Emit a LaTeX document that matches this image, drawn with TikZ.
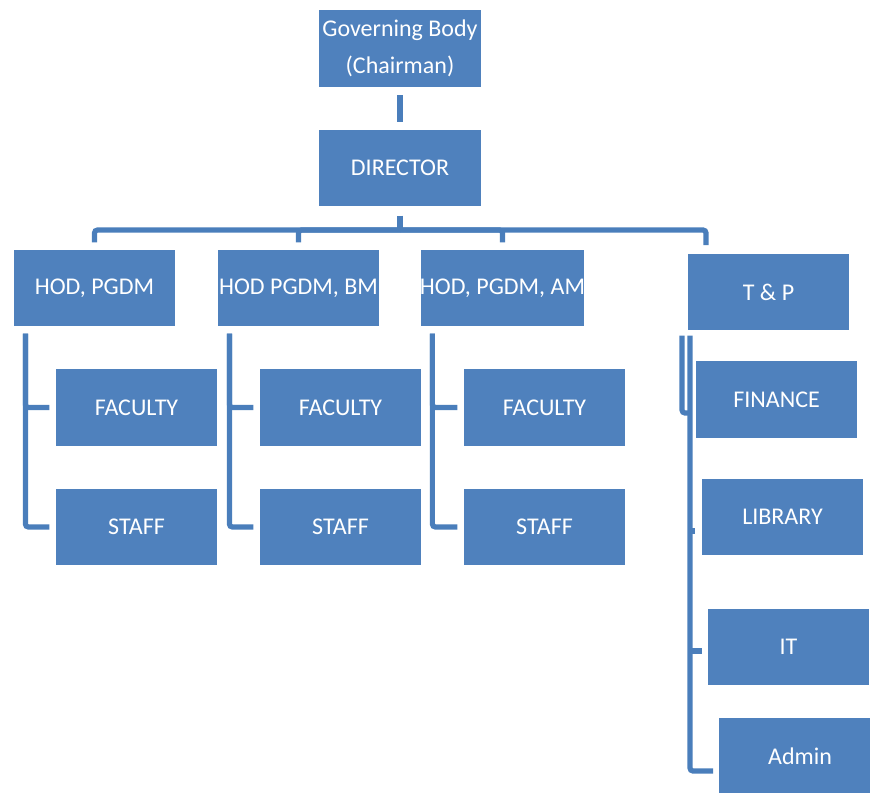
\documentclass[tikz,border=0pt]{standalone}
\usepackage{fontspec}
\setmainfont{Carlito}
\definecolor{boxblue}{HTML}{4F81BD}
\definecolor{lineblue}{HTML}{4A7EBB}
\begin{document}
\begin{tikzpicture}[x=0.5pt,y=-0.5pt,
  box/.style={draw=white, line width=0.6pt, fill=boxblue, text=white, inner sep=0pt,
    minimum width=81.5pt, minimum height=39pt, align=center,
    font=\fontsize{12}{18.5}\selectfont},
  conn/.style={draw=lineblue, line width=2.6pt, rounded corners=1.5pt}]
\useasboundingbox (0,0) rectangle (870,792);

% coordinates
\coordinate (bus) at (400,230);
\coordinate (tpdrop) at (706,245);
\coordinate (ra) at (682,413);
\coordinate (rb) at (690,771);
\coordinate (admend) at (713,771);
\coordinate (libend) at (695,531);

% boxes
\node[box] (gov) at (400,48.5) {Governing Body\\(Chairman)};
\node[box] (dir) at (400,168) {DIRECTOR};
\node[box] (h1) at (94.5,288) {HOD, PGDM};
\node[box] (h2) at (298.5,288) {HOD PGDM, BM};
\node[box] (h3) at (502.5,288) {HOD, PGDM, AM};
\node[box] (tp) at (768.5,292) {T \& P};
\node[box] (f1) at (136.5,407.5) {FACULTY};
\node[box] (s1) at (136.5,527) {STAFF};
\node[box] (f2) at (340.5,407.5) {FACULTY};
\node[box] (s2) at (340.5,527) {STAFF};
\node[box] (f3) at (544.5,407.5) {FACULTY};
\node[box] (s3) at (544.5,527) {STAFF};

% right column connectors (behind boxes)
\draw[conn, shorten <=2pt] (tp.south -| ra) -- (ra) -- ++(8,0);
\draw[conn, shorten <=2pt] (tp.south -| rb) |- (admend);
\draw[conn] (libend -| rb) -- (libend);
\draw[conn, shorten >=2.5pt] (rb |- 0,651) coordinate (itb) -- (itb -| 707,0);

\node[box] (fin) at (776.5,399.5) {FINANCE};
\node[box] (lib) at (782.5,517) {LIBRARY};
\node[box] (it) at (788.5,647) {IT};
\node[box] (adm) at (800,756) {Admin};

% top connectors
\draw[conn, shorten <=3.5pt, shorten >=3pt] (gov) -- (dir);
\draw[conn, shorten <=4pt] (dir.south) -- (dir.south |- bus);
\draw[conn, shorten >=3pt] (dir.south |- bus) -| (h1.north);
\draw[conn, shorten >=3pt] (dir.south |- bus) -| (h2.north);
\draw[conn, shorten >=3pt] (dir.south |- bus) -| (h3.north);
\draw[conn] (dir.south |- bus) -| (tpdrop);

% department columns
\foreach \h/\f/\s in {h1/f1/s1, h2/f2/s2, h3/f3/s3}{
  \draw[conn, shorten <=3pt, shorten >=2.5pt] ([xshift=6.5pt]\h.south west) |- (\s.west);
  \draw[conn, shorten >=2.5pt] ([xshift=6.5pt,yshift=-3pt]\h.south west) |- (\f.west);
}
\end{tikzpicture}
\end{document}
